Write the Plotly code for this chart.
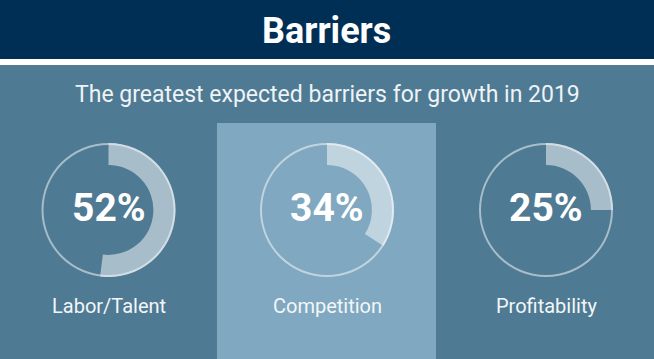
import plotly.graph_objects as go

# ---- data ----
title = "Barriers"
subtitle = "The greatest expected barriers for growth in 2019"
categories = ["Labor/Talent", "Competition", "Profitability"]
values = [52, 34, 25]
highlight = ["Competition"]

# ---- style ----
W, H = 654, 359
BG = "#4f7a93"
PANEL = "#80a8c0"
NAVY = "#002f56"
ARC = "rgba(255,255,255,0.5)"
FONT = "Roboto"

centers_x = [108.5, 327, 546]
center_y = 210
R = 67

fig = go.Figure()

shapes = [
    dict(type="rect", xref="paper", yref="paper", x0=0, x1=1, y0=1 - 59 / H, y1=1,
         fillcolor=NAVY, line_width=0, layer="below"),
    dict(type="rect", xref="paper", yref="paper", x0=0, x1=1, y0=1 - 65 / H, y1=1 - 59 / H,
         fillcolor="white", line_width=0, layer="below"),
]


def ann(text, x_px, y_px, size, color):
    return dict(text=text, x=x_px / W, y=1 - y_px / H, xref="paper", yref="paper",
                xanchor="center", yanchor="middle", showarrow=False,
                font=dict(family=FONT, size=size, color=color))


annotations = [
    ann(f"<b>{title}</b>", W / 2 - 1, 31, 36, "white"),
    ann(subtitle, W / 2, 94, 23, "#eef3f6"),
]

for i, (cat, val) in enumerate(zip(categories, values)):
    cx = centers_x[i]
    if cat in highlight:
        shapes.append(dict(type="rect", xref="paper", yref="paper",
                           x0=217 / W, x1=436 / W, y0=0, y1=1 - 123 / H,
                           fillcolor=PANEL, line_width=0, layer="below"))
    dom = dict(x=[(cx - R) / W, (cx + R) / W],
               y=[(H - center_y - R) / H, (H - center_y + R) / H])
    # thin outline ring
    fig.add_trace(go.Pie(values=[100], labels=[cat + " ring"], hole=0.97, domain=dom,
                         marker=dict(colors=[ARC], line=dict(width=0)),
                         textinfo="none", hoverinfo="skip", sort=False, showlegend=False))
    # value arc
    fig.add_trace(go.Pie(values=[val, 100 - val], labels=[cat, cat + " rest"], hole=0.67,
                         domain=dom, direction="clockwise", sort=False, rotation=0,
                         marker=dict(colors=[ARC, "rgba(0,0,0,0)"], line=dict(width=0)),
                         textinfo="none", hoverinfo="label+value", showlegend=False))
    annotations.append(ann(f"<b>{val}%</b>", cx, 208, 39, "white"))
    annotations.append(ann(cat, cx, 306, 20, "#f3f6f8"))

fig.update_layout(width=W, height=H, margin=dict(l=0, r=0, t=0, b=0),
                  paper_bgcolor=BG, plot_bgcolor=BG, shapes=shapes,
                  annotations=annotations, showlegend=False)

fig.write_html("out.html", config={"displayModeBar": False},
               post_script="document.body.style.margin='0';document.body.style.overflow='hidden';")
